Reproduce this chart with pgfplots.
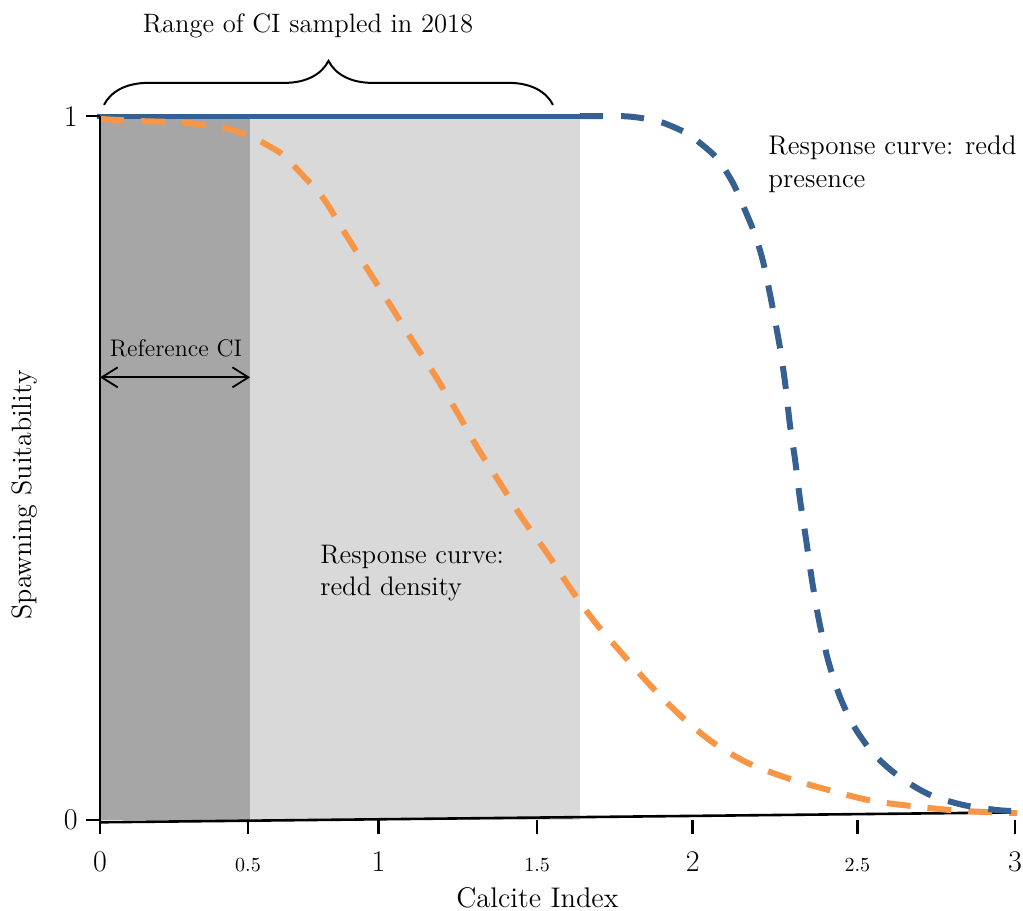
\documentclass[border=0pt]{standalone}
\usepackage{fontspec}
\usepackage{pgfplots}
\usepackage{pgfplotstable}
\pgfplotsset{compat=1.18}
\usetikzlibrary{decorations.pathreplacing, arrows.meta}
\definecolor{cblue}{HTML}{376092}
\definecolor{corange}{HTML}{F79646}
\definecolor{dgray}{HTML}{A6A6A6}
\definecolor{lgray}{HTML}{D9D9D9}

\pgfplotstableread{
x y
0.000 0.996
0.131 0.993
0.269 0.991
0.403 0.984
0.482 0.973
0.531 0.963
0.600 0.945
0.656 0.920
0.731 0.884
0.803 0.834
0.875 0.784
0.951 0.732
1.023 0.682
1.098 0.632
1.170 0.580
1.236 0.530
1.311 0.479
1.384 0.429
1.466 0.379
1.541 0.330
1.623 0.281
1.711 0.237
1.803 0.192
1.902 0.149
2.007 0.111
2.125 0.081
2.252 0.060
2.387 0.043
2.525 0.028
2.662 0.020
2.797 0.014
2.934 0.011
3.007 0.010
}\density

\pgfplotstableread{
x y
1.574 1.000
1.711 1.000
1.780 0.997
1.843 0.991
1.918 0.977
1.961 0.964
2.023 0.940
2.075 0.905
2.115 0.866
2.148 0.831
2.174 0.793
2.197 0.746
2.216 0.703
2.233 0.661
2.249 0.611
2.262 0.561
2.279 0.511
2.295 0.455
2.315 0.398
2.334 0.341
2.357 0.284
2.387 0.227
2.426 0.175
2.475 0.131
2.541 0.092
2.623 0.061
2.721 0.036
2.836 0.021
2.951 0.014
3.016 0.013
}\presence

\begin{document}
\begin{tikzpicture}
\begin{axis}[
  scale only axis, width=457.5pt, height=352pt,
  xmin=0, xmax=3, ymin=0, ymax=1,
  clip=false,
  axis lines=left,
  axis line style={-, line width=1.3pt, black},
  x axis line style={draw=none},
  axis on top,
  xtick={0,0.485,0.913,1.433,1.943,2.483,3},
  xticklabels={0,{\fontsize{10}{10}\selectfont 0.5},1,{\fontsize{10}{10}\selectfont 1.5},2,{\fontsize{10}{10}\selectfont 2.5},3},
  ytick={0,1}, yticklabels={0,1},
  tick align=outside, major tick length=7pt,
  tick style={black, line width=1.2pt},
  xticklabel style={font=\fontsize{15}{15}\selectfont, anchor=base, inner sep=0pt, yshift=-18.5pt},
  yticklabel style={font=\fontsize{15}{15}\selectfont, anchor=east, inner sep=0pt, xshift=-4pt},
  xlabel={Calcite Index},
  xlabel style={font=\fontsize{14.2}{14.2}\selectfont, at={(axis description cs:0.478,-0.1236)}, anchor=base, inner sep=0pt},
  ylabel={Spawning Suitability},
  ylabel style={font=\fontsize{14}{14}\selectfont, at={(axis description cs:-0.082,0.462)}, anchor=center},
]
% shaded ranges
\addplot[fill=dgray, draw=none] coordinates {(0,1) (0.492,1)} \closedcycle;
\addplot[fill=lgray, draw=none] coordinates {(0.492,1) (1.574,1)} \closedcycle;
% tilted x axis line
\addplot[black, line width=1.3pt] coordinates {(0,-0.003) (3.0,0.011)};
% curves
\addplot[cblue, line width=2.6pt] coordinates {(-0.01,1) (1.574,1)};
\addplot[corange, line width=3pt, smooth, dash pattern=on 12pt off 8.5pt] table[x=x,y=y] {\density};
\addplot[cblue, line width=3pt, smooth, dash pattern=on 11.5pt off 9pt] table[x=x,y=y] {\presence};

% annotations
\node[anchor=base, inner sep=0pt, font=\fontsize{13.3}{13.3}\selectfont] at (axis cs:0.682,1.119) {Range of CI sampled in 2018};
\draw[decorate, decoration={brace, amplitude=22pt, aspect=0.5}, line width=1pt] (axis cs:0.013,1.016) -- (axis cs:1.485,1.016);
\node[anchor=base, inner sep=0pt, font=\fontsize{12}{12}\selectfont] at (axis cs:0.249,0.658) {Reference CI};
\draw[{Straight Barb[length=8pt,width=10pt]}-{Straight Barb[length=8pt,width=10pt]}, line width=0.9pt] (axis cs:0,0.629) -- (axis cs:0.492,0.629);
\node[anchor=base west, inner sep=0pt, align=left, font=\fontsize{13.4}{16}\selectfont] at (axis cs:0.721,0.319) {Response curve:\\redd density};
\node[anchor=base west, inner sep=0pt, align=left, font=\fontsize{13.5}{16.5}\selectfont] at (axis cs:2.190,0.898) {Response curve: redd\\presence};
% picture extent
\path (axis cs:-0.328,-0.129) rectangle (axis cs:3.026,1.165);
\end{axis}
\end{tikzpicture}
\end{document}
